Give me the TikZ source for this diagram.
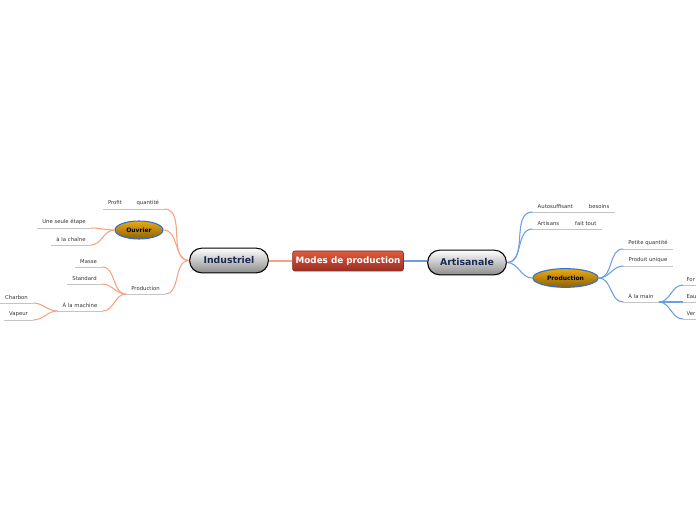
\documentclass[tikz,border=0pt]{standalone}
\usepackage{fontspec}
\setmainfont{DejaVu Sans}
\usetikzlibrary{shapes.geometric}
\definecolor{orangeline}{HTML}{F6A385}
\definecolor{blueline}{HTML}{6C9EE6}
\definecolor{ulgray}{HTML}{C4C4C4}
\definecolor{pilltext}{HTML}{1B2A52}
\definecolor{roottop}{HTML}{E05A3E}
\definecolor{rootbot}{HTML}{9C3024}
\definecolor{goldtop}{HTML}{EBAA12}
\definecolor{goldmid}{HTML}{C98D0C}
\definecolor{goldbot}{HTML}{8C620A}
\definecolor{bubbleline}{HTML}{2F6FD6}
\begin{document}
\begin{tikzpicture}[x=0.75pt,y=-0.75pt,
 root/.style={rectangle,rounded corners=1.5pt,draw=rootbot!80!black,line width=0.4pt,
  top color=roottop,bottom color=rootbot,minimum width=83pt,minimum height=15pt,
  text=white,font=\fontsize{6.6}{7}\selectfont\bfseries,inner sep=0pt},
 pill/.style={rectangle,rounded corners=9pt,draw=black,line width=0.8pt,
  top color=white,middle color=gray!55,bottom color=gray!90,minimum width=59pt,minimum height=18.5pt,
  text=pilltext,font=\fontsize{7}{8}\selectfont\bfseries,inner sep=0pt},
 bubble/.style={ellipse,draw=bubbleline,line width=0.8pt,
  top color=goldtop,middle color=goldmid,bottom color=goldbot,inner sep=0pt,
  font=\fontsize{4.5}{5}\selectfont\bfseries,text=black},
 topic/.style={anchor=south,font=\fontsize{4}{5}\selectfont,text=black!80,inner xsep=3.75pt,inner ysep=2pt,
  append after command={(\tikzlastnode.south west) edge[draw=ulgray,line width=0.6pt] (\tikzlastnode.south east)}},
 lconn/.style={draw=orangeline,line width=0.8pt},
 rconn/.style={draw=blueline,line width=0.8pt}]
 \useasboundingbox (0,0) rectangle (696,520);
 \node[root] (modes) at (348,261) {Modes de production};
 \node[pill] (ind) at (229,260.5) {Industriel};
 \node[pill] (art) at (467,262.5) {Artisanale};
 \draw[lconn] (modes.west) -- (modes.west -| ind.east);
 \draw[rconn] (modes.east) -- (modes.east -| art.west);

 % Industriel
 \node[topic] (profit) at (133.5,209) {Profit\hspace{11pt}quantité};
 \node[bubble,minimum width=36pt,minimum height=13.5pt] (ouv) at (139,230) {Ouvrier};
 \node[topic] (etape) at (64,228) {Une seule étape};
 \node[topic] (chaine) at (71,245) {à la chaîne};
 \node[topic] (prodL) at (145.5,294) {Production};
 \node[topic] (masse) at (88.5,267) {Masse};
 \node[topic] (standard) at (84.5,284) {Standard};
 \node[topic] (machine) at (80,311) {À la machine};
 \node[topic] (charbon) at (16.5,303) {Charbon};
 \node[topic] (vapeur) at (18.5,320) {Vapeur};
 \draw[lconn] (ind.west) to[out=180,in=0] (profit.south east);
 \draw[lconn] (ind.west) to[out=180,in=0] (ouv.east);
 \draw[lconn] (ind.west) to[out=180,in=0] (prodL.south east);
 \draw[lconn] (ouv.west) to[out=180,in=0] (etape.south east);
 \draw[lconn] (ouv.west) to[out=180,in=0] (chaine.south east);
 \draw[lconn] (prodL.south west) to[out=180,in=0] (masse.south east);
 \draw[lconn] (prodL.south west) to[out=180,in=0] (standard.south east);
 \draw[lconn] (prodL.south west) to[out=180,in=0] (machine.south east);
 \draw[lconn] (machine.south west) to[out=180,in=0] (charbon.south east);
 \draw[lconn] (machine.south west) to[out=180,in=0] (vapeur.south east);

 % Artisanale
 \node[topic] (auto) at (573.5,212) {Autosuffisant\hspace{12pt}besoins};
 \node[topic] (artisans) at (567,229) {Artisans\hspace{12pt}fait tout};
 \node[bubble,minimum width=49pt,minimum height=14pt] (prodR) at (565.5,278) {Production};
 \node[topic] (petite) at (648,249) {Petite quantité};
 \node[topic] (unique) at (648,266) {Produit unique};
 \node[topic] (main) at (641,302) {À la main};
 \node[topic,anchor=south west,inner xsep=2.5pt] (force) at (683,285) {For};
 \node[topic,anchor=south west,inner xsep=2.5pt] (eau) at (683,302) {Eau};
 \node[topic,anchor=south west,inner xsep=2.5pt] (vent) at (683,319) {Ver};
 \draw[rconn] (art.east) to[out=0,in=180] (auto.south west);
 \draw[rconn] (art.east) to[out=0,in=180] (artisans.south west);
 \draw[rconn] (art.east) to[out=0,in=180] (prodR.west);
 \draw[rconn] (prodR.east) to[out=0,in=180] (petite.south west);
 \draw[rconn] (prodR.east) to[out=0,in=180] (unique.south west);
 \draw[rconn] (prodR.east) to[out=0,in=180] (main.south west);
 \draw[rconn] (main.south east) to[out=0,in=180] (force.south west);
 \draw[rconn] (main.south east) to[out=0,in=180] (eau.south west);
 \draw[rconn] (main.south east) to[out=0,in=180] (vent.south west);
\end{tikzpicture}
\end{document}
